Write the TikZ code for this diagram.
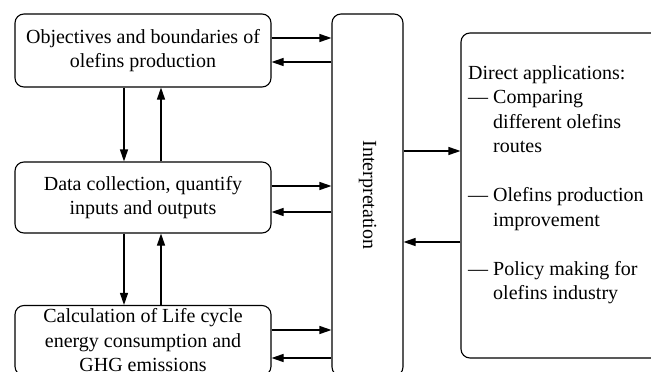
\documentclass[tikz,border=0pt]{standalone}
\usepackage{fontspec}
\setmainfont{Liberation Serif}
\usetikzlibrary{arrows.meta,positioning,calc}

\tikzset{
	stage/.style={draw, line width=1.1pt, rounded corners=9pt, minimum width=256pt, align=center, inner sep=0pt},
	tallbox/.style={draw, line width=1.1pt, rounded corners=9pt, inner sep=0pt},
	arr/.style={line width=1.1pt, -{Triangle[length=12pt,width=8pt]}}
}

\begin{document}
\begin{tikzpicture}[x=1pt, y=-1pt, font=\fontsize{20}{24.5}\selectfont]
	\useasboundingbox (0,0) rectangle (651,372);
	\clip (0,0) rectangle (651,372);
	
	% left column
	\node[stage, minimum height=73pt] (obj) at (143,50.5) {Objectives and boundaries of\\olefins production};
	\node[stage, minimum height=71pt] (data) at (143,197.5) {Data collection, quantify\\inputs and outputs};
	\node[stage, minimum height=70pt] (calc) at (143,340.5) {Calculation of Life cycle\\energy consumption and\\GHG emissions};
	
	% interpretation
	\node[tallbox, minimum width=71pt, minimum height=362pt] (interp) at (367.5,195) {};
	\node[rotate=-90, inner sep=0pt] (interptxt) at (interp.center) {Interpretation};
	
	% applications
	\node[tallbox, minimum width=199pt, minimum height=325pt] (apps) at (560.5,195.5) {};
	\node[anchor=north west, align=left, inner sep=0pt] (appstxt) at (468,65) {Direct applications:\\
		\makebox[25pt][l]{—}Comparing\\
		\hspace*{25pt}different olefins\\
		\hspace*{25pt}routes\\[24.5pt]
		\makebox[25pt][l]{—}Olefins production\\
		\hspace*{25pt}improvement\\[24.5pt]
		\makebox[25pt][l]{—}Policy making for\\
		\hspace*{25pt}olefins industry};
	
	% stages <-> interpretation
	\draw[arr] ([yshift=12.5pt]obj.east) -- ([yshift=12.5pt]obj.east -| interp.west);
	\draw[arr] ([yshift=-11.5pt]obj.east -| interp.west) -- ([yshift=-11.5pt]obj.east);
	\draw[arr] ([yshift=11.5pt]data.east) -- ([yshift=11.5pt]data.east -| interp.west);
	\draw[arr] ([yshift=-14.5pt]data.east -| interp.west) -- ([yshift=-14.5pt]data.east);
	\draw[arr] ([yshift=10.5pt]calc.east) -- ([yshift=10.5pt]calc.east -| interp.west);
	\draw[arr] ([yshift=-17.5pt]calc.east -| interp.west) -- ([yshift=-17.5pt]calc.east);
	
	% between stages
	\draw[arr] ([xshift=-19pt]obj.south) -- ([xshift=-19pt]obj.south |- data.north);
	\draw[arr] ([xshift=18pt]data.north) -- ([xshift=18pt]data.north |- obj.south);
	\draw[arr] ([xshift=-19pt]data.south) -- ([xshift=-19pt]data.south |- calc.north);
	\draw[arr] ([xshift=18pt]calc.north) -- ([xshift=18pt]calc.north |- data.south);
	
	% interpretation <-> applications
	\draw[arr] ([yshift=44pt]interp.east) -- ([yshift=44pt]interp.east -| apps.west);
	\draw[arr] ([yshift=-47pt]interp.east -| apps.west) -- ([yshift=-47pt]interp.east);
\end{tikzpicture}
\end{document}
